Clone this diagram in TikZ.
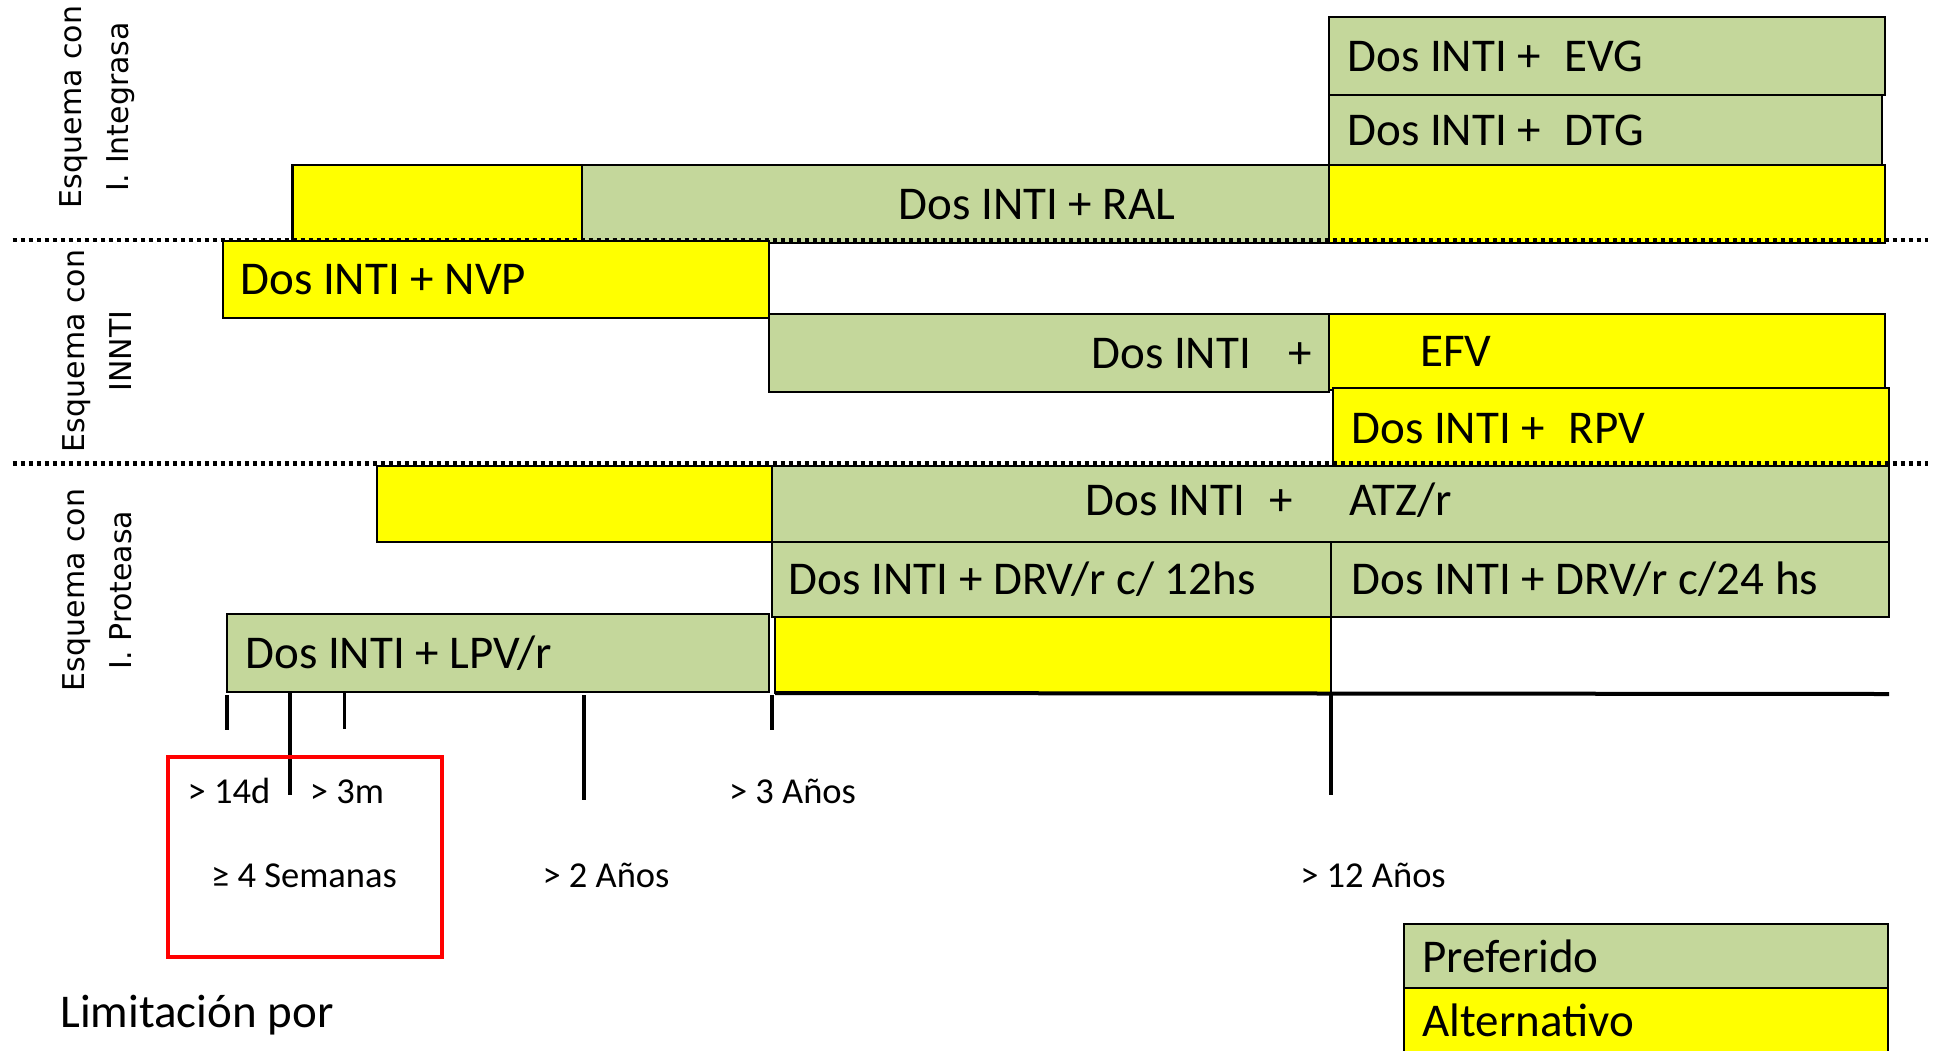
\documentclass[tikz,border=0pt]{standalone}
\usepackage{fontspec}
\setmainfont{Carlito}
\newfontfamily\sidefont{DejaVu Sans}
\definecolor{pref}{HTML}{C4D79B}
\definecolor{alt}{HTML}{FFFF00}
\definecolor{redb}{HTML}{FF0000}
\tikzset{
 cell/.style={draw=black, line width=1.2pt, inner sep=0pt, outer sep=0pt, anchor=north west},
 big/.style={font=\fontsize{23.5}{28}\selectfont, inner sep=0pt, text height=15.1pt, text depth=0pt},
 small/.style={font=\fontsize{18.25}{22}\selectfont, inner sep=0pt, text height=11.75pt, text depth=0pt},
 side/.style={font=\sidefont\fontsize{15}{23.5}\selectfont, rotate=90, align=center, inner sep=0pt},
 sepline/.style={line width=2.4pt, dash pattern=on 2.35pt off 1.65pt},
 tickline/.style={line width=1.8pt},
}
\newcommand{\cellbox}[6]{%
 \pgfmathsetmacro{\mycw}{(#4-#2)*0.5}%
 \pgfmathsetmacro{\mych}{(#5-#3)*0.5}%
 \node[cell, fill=#6, minimum width=\mycw pt, minimum height=\mych pt] (#1) at (#2,#3) {};}
\begin{document}
\begin{tikzpicture}[x=0.5pt,y=-0.5pt]
\useasboundingbox (0,0) rectangle (1936,1050);
\fill[white] (0,0) rectangle (1936,1050);
\clip (0,0) rectangle (1936,1050);
% boxes
\cellbox{evg}{1329}{17}{1885}{95}{pref}
\cellbox{dtg}{1329}{95}{1882}{165}{pref}
\cellbox{ralA}{292.5}{165}{582}{243}{alt}
\cellbox{ral}{582}{165}{1329}{243}{pref}
\cellbox{ralB}{1329}{165}{1885}{243}{alt}
\cellbox{nvp}{223}{241}{769}{318}{alt}
\cellbox{efvG}{769}{314}{1329}{392}{pref}
\cellbox{efv}{1329}{314}{1885}{390}{alt}
\cellbox{rpv}{1333}{388}{1889}{466}{alt}
\cellbox{atzA}{377}{466}{772}{542}{alt}
\cellbox{atz}{772}{466}{1889}{542}{pref}
\cellbox{drvA}{772}{542}{1331}{617}{pref}
\cellbox{drvB}{1331}{542}{1889}{617}{pref}
\cellbox{lpv}{227}{614}{769}{692}{pref}
\cellbox{lpvA}{775}{617}{1331}{693}{alt}
\cellbox{legP}{1404}{924}{1888}{988}{pref}
\cellbox{legA}{1404}{988}{1888}{1060}{alt}
% separators
\coordinate (s1a) at (12.7,240); \coordinate (s1b) at (1928,240);
\coordinate (s2a) at (12.7,463.3); \coordinate (s2b) at (1928,463.3);
\draw[sepline] (s1a) -- (s1b);
\draw[sepline] (s2a) -- (s2b);
% box texts
\node[big,anchor=west] (tEVG) at (1347,56) {Dos INTI +\hspace{0.5em}EVG};
\node[big,anchor=west] (tDTG) at (1347,130) {Dos INTI +\hspace{0.5em}DTG};
\node[big] (tRAL) at (1037,204) {Dos INTI + RAL};
\node[big,anchor=west] (tNVP) at (240,279.5) {Dos INTI + NVP};
\node[big,anchor=west] (tEFVa) at (1091,353) {Dos INTI\hspace{0.79em}+};
\node[big,anchor=west] (tEFV) at (1420,351) {EFV};
\node[big,anchor=west] (tRPV) at (1351,428) {Dos INTI +\hspace{0.5em}RPV};
\node[big,anchor=west] (tATZ) at (1085,500) {Dos INTI\hspace{0.52em}+\hspace{1.2em}ATZ/r};
\node[big,anchor=west] (tDRVa) at (788.5,579) {Dos INTI + DRV/r c/ 12hs};
\node[big,anchor=west] (tDRVb) at (1351,579) {Dos INTI + DRV/r c/24 hs};
\node[big,anchor=west] (tLPV) at (245,653) {Dos INTI + LPV/r};
\node[big,anchor=west] (tPref) at (1422,957) {Preferido};
\node[big,anchor=west] (tAlt) at (1422,1021) {Alternativo};
% side labels
\node[side] (sInt) at (97,107) {Esquema con\\I. Integrasa};
\node[side] (sInnti) at (97,351) {Esquema con\\INNTI};
\node[side] (sProt) at (97,590) {Esquema con\\I. Proteasa};
% axis and ticks
\coordinate (axR) at (1889,694);
\draw[line width=2pt] (lpvA.south west) -- (axR);
\draw[tickline] (227,695) -- (227,730);
\draw[tickline] (290,693) -- (290,795);
\draw[tickline] (344.4,693) -- (344.4,729);
\draw[tickline] (583.8,695) -- (583.8,800);
\draw[tickline] (772,695) -- (772,730);
\draw[tickline] (1331,695) -- (1331,795);
% red box
\node[draw=redb, line width=1.8pt, inner sep=0pt, outer sep=0pt, anchor=north west, minimum width=137pt, minimum height=100pt] (redbox) at (168,757) {};
% tick labels
\node[small] (l14d) at (229,792) {> 14d};
\node[small] (l3m) at (347,792) {> 3m};
\node[small] (l4s) at (304,876) {≥ 4 Semanas};
\node[small] (l2a) at (606,876) {> 2 Años};
\node[small] (l3a) at (792.5,792) {> 3 Años};
\node[small] (l12a) at (1373,876) {> 12 Años};
\node[font=\fontsize{23.5}{28}\selectfont, inner sep=0pt, anchor=base west] (lim) at (60,1027) {Limitación por};
\end{tikzpicture}
\end{document}
